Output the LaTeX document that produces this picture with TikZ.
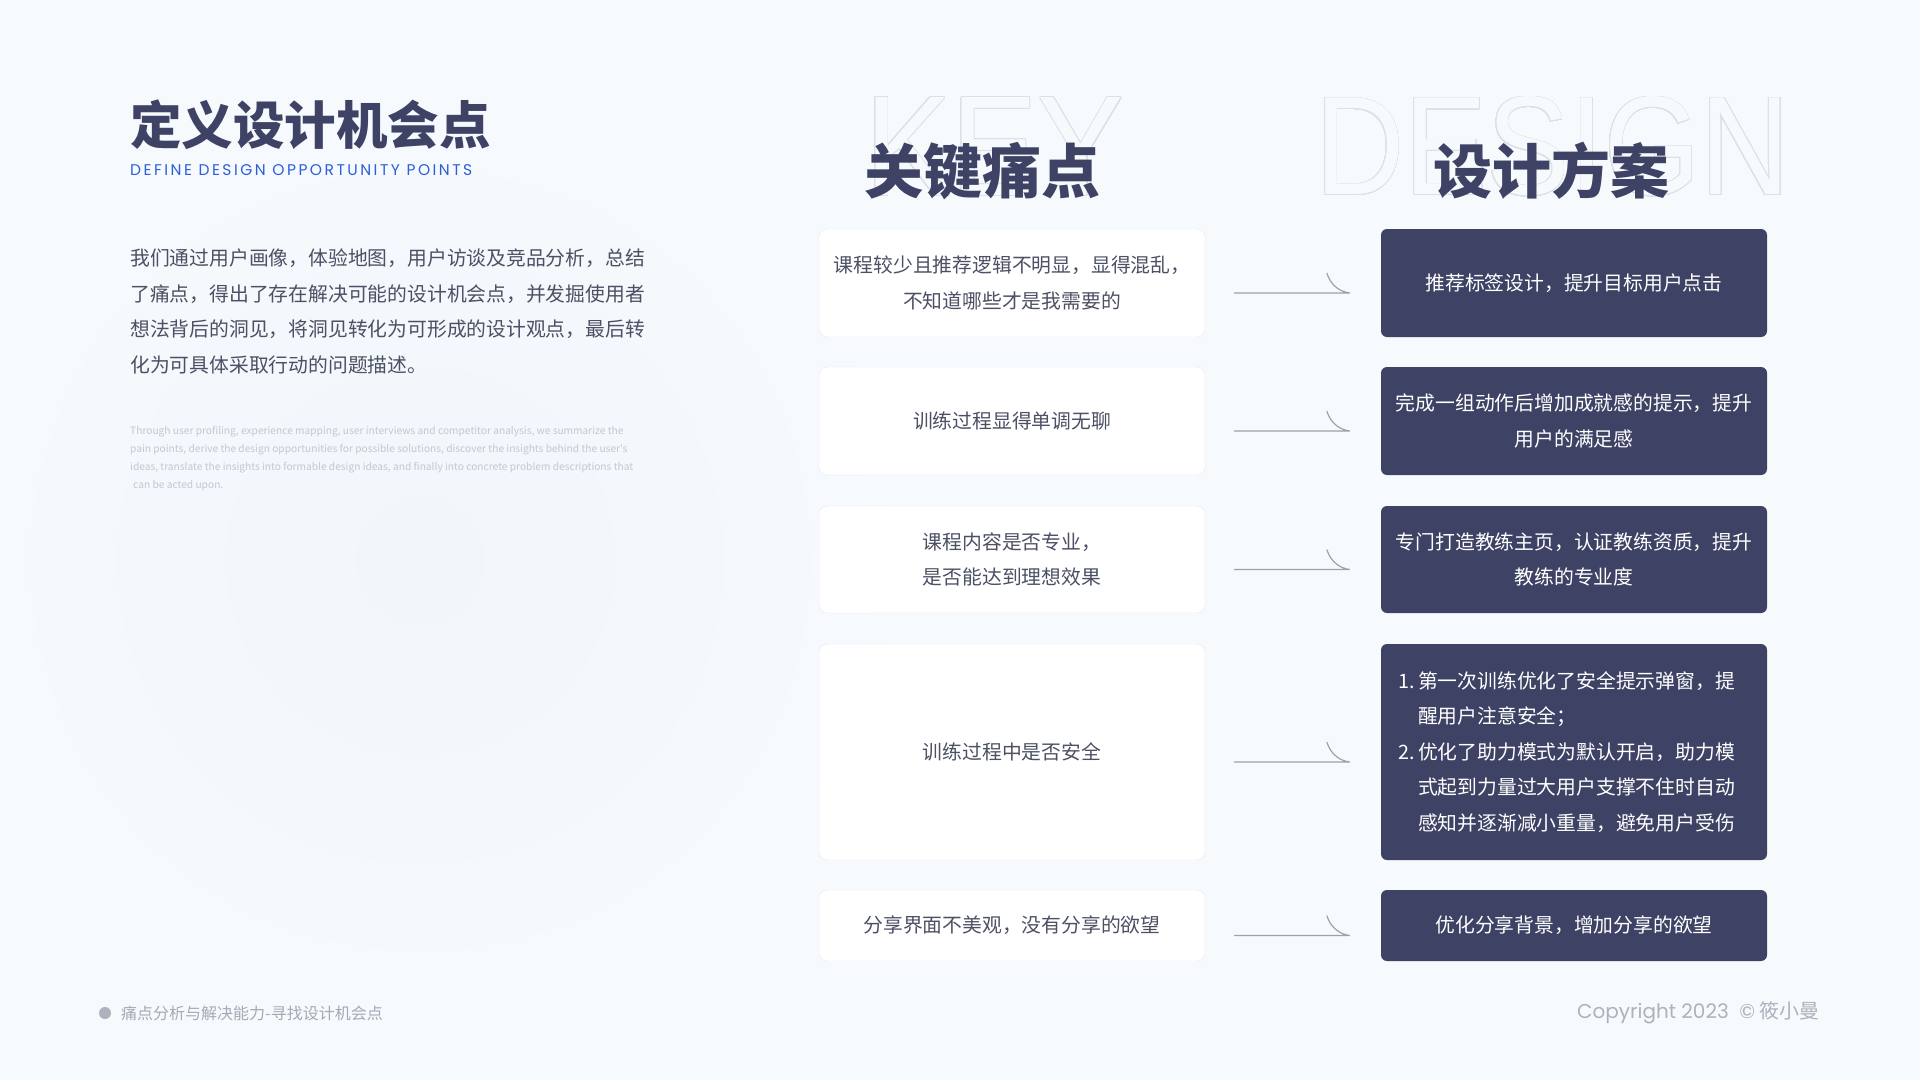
\documentclass[tikz,border=0pt]{standalone}
\usepackage{fontspec}
\usepackage{graphicx}
\usepackage{contour}
\setmainfont{Noto Sans CJK SC}
\newfontfamily\cjk{Noto Sans CJK SC}
\newfontfamily\subfont{Poppins}[LetterSpace=16]
\newfontfamily\copyfont{Poppins}
\newfontfamily\outfont{Liberation Sans}
\definecolor{navy}{HTML}{3E4264}
\definecolor{bgcol}{HTML}{F7FAFD}
\definecolor{blobcol}{HTML}{F1F6FB}
\definecolor{bodytext}{HTML}{4C5064}
\definecolor{boxline}{HTML}{E4E7EE}
\definecolor{ghost}{HTML}{DDE0E6}
\definecolor{entext}{HTML}{C3C7CF}
\definecolor{linkcol}{HTML}{9CA1AB}
\definecolor{subblue}{HTML}{2C5FD9}
\definecolor{footgray}{HTML}{A6A9B5}
%%% outline text for the big background words
\contourlength{0.7pt}
\contournumber{48}
\newcommand{\outlinetext}[1]{\contour{ghost}{\textcolor{bgcol}{#1}}}
\begin{document}
\begin{tikzpicture}[x=1pt,y=-1pt,
    painbox/.style={draw=boxline,fill=white,rounded corners=8pt,minimum width=386pt,
        text=bodytext,align=center,inner sep=0pt,font=\cjk\fontsize{19.8}{35.5}\selectfont},
    solbox/.style={fill=navy,rounded corners=6pt,minimum width=386pt,
        text=white,align=center,inner sep=0pt,font=\cjk\fontsize{19.8}{35.5}\selectfont},
    link/.style={draw=linkcol,line width=1.2pt},
    ghostword/.style={inner sep=0pt,font=\outfont\fontsize{137}{140}\selectfont}]
%%% Background
\useasboundingbox (0,0) rectangle (1920,1080);
\fill[bgcol] (0,0) rectangle (1920,1080);
\shade[inner color=blobcol,outer color=bgcol] (420,560) circle (520);
%%% Title block
\node[anchor=west,text=navy,inner sep=0pt,font=\cjk\bfseries\fontsize{51.5}{60}\selectfont] (title) at (130,125) {定义设计机会点};
\node[anchor=west,text=subblue,inner sep=0pt,font=\subfont\fontsize{15.5}{18}\selectfont] (subtitle) at (130,170) {DEFINE DESIGN OPPORTUNITY POINTS};
\node[anchor=west,text=bodytext,align=left,inner sep=0pt,font=\cjk\fontsize{19.8}{35.5}\selectfont] (intro) at (130,311.5)
    {我们通过用户画像，体验地图，用户访谈及竞品分析，总结\\了痛点，得出了存在解决可能的设计机会点，并发掘使用者\\想法背后的洞见，将洞见转化为可形成的设计观点，最后转\\化为可具体采取行动的问题描述。};
\node[anchor=west,text=entext,align=left,inner sep=0pt,font=\cjk\fontsize{10.2}{18}\selectfont] (introen) at (130,459)
    {Through user profiling, experience mapping, user interviews and competitor analysis, we summarize the\\pain points, derive the design opportunities for possible solutions, discover the insights behind the user's\\ideas, translate the insights into formable design ideas, and finally into concrete problem descriptions that\\\hspace*{3pt}can be acted upon.};
%%% Column headings with outline words behind
\node[ghostword] (keyword) at (994.5,147) {\resizebox{259pt}{98pt}{\outlinetext{KEY}}};
\node[ghostword] (designword) at (1552.5,147) {\resizebox{475pt}{98pt}{\outlinetext{DESIGN}}};
\node[text=navy,inner sep=0pt,font=\cjk\bfseries\fontsize{59}{66}\selectfont] (painhead) at (982,171) {关键痛点};
\node[text=navy,inner sep=0pt,font=\cjk\bfseries\fontsize{59}{66}\selectfont] (solhead) at (1551,171) {设计方案};
%%% Pain points
\node[painbox,minimum height=108pt] (p1) at (1012,283) {课程较少且推荐逻辑不明显，显得混乱，\\不知道哪些才是我需要的};
\node[painbox,minimum height=108pt] (p2) at (1012,421) {训练过程显得单调无聊};
\node[painbox,minimum height=107pt] (p3) at (1012,559.5) {课程内容是否专业，\\是否能达到理想效果};
\node[painbox,minimum height=216pt] (p4) at (1012,752) {训练过程中是否安全};
\node[painbox,minimum height=71pt] (p5) at (1012,925.5) {分享界面不美观，没有分享的欲望};
%%% Solutions
\node[solbox,minimum height=108pt] (s1) at (1574,283) {推荐标签设计，提升目标用户点击};
\node[solbox,minimum height=108pt] (s2) at (1574,421) {完成一组动作后增加成就感的提示，提升\\用户的满足感};
\node[solbox,minimum height=107pt] (s3) at (1574,559.5) {专门打造教练主页，认证教练资质，提升\\教练的专业度};
\node[solbox,minimum height=216pt,text width=352pt,align=left] (s4) at (1574,752)
    {\makebox[20pt][l]{1.}第一次训练优化了安全提示弹窗，提\\\hspace*{20pt}醒用户注意安全；\\\makebox[20pt][l]{2.}优化了助力模式为默认开启，助力模\\\hspace*{20pt}式起到力量过大用户支撑不住时自动\\\hspace*{20pt}感知并逐渐减小重量，避免用户受伤};
\node[solbox,minimum height=71pt] (s5) at (1574,925.5) {优化分享背景，增加分享的欲望};
%%% Connectors
\foreach \i in {1,...,5}
    \draw[link] ([shift={(29,10)}]p\i.east) -- ([shift={(-31,10)}]s\i.west)
        .. controls +(-9,-1) and +(4,13) .. ++(-23,-20);
%%% Footer
\fill[footgray!90!white] (105,1013) circle (6);
\node[anchor=west,text=footgray,inner sep=0pt,font=\cjk\fontsize{16}{18}\selectfont] (footl) at (121,1013) {痛点分析与解决能力-寻找设计机会点};
\node[anchor=east,text=footgray!90!white,inner sep=0pt,font=\fontsize{20}{23}\selectfont] (footr) at (1820,1013) {{\copyfont Copyright 2023 \ ©} {\cjk 筱小曼}};
\end{tikzpicture}
\end{document}
